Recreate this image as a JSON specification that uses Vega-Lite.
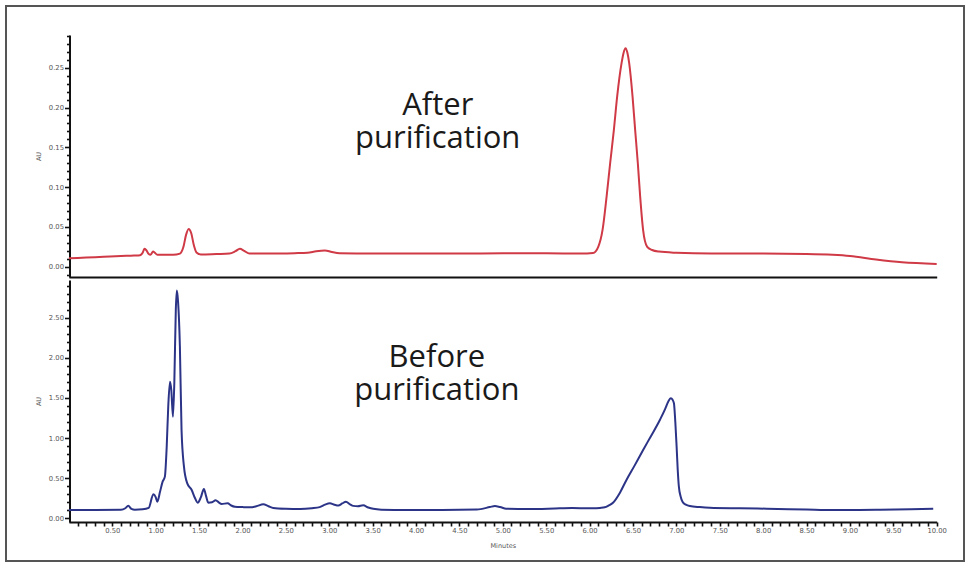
{
  "$schema": "https://vega.github.io/schema/vega-lite/v6.json",
  "width": 958,
  "height": 555,
  "autosize": {"type": "none"},
  "padding": {"left": 6, "top": 6, "right": 3, "bottom": 3},
  "background": "white",
  "config": {
    "view": {"stroke": "#555555", "strokeWidth": 2},
    "axis": {
      "labelFont": "DejaVu Sans", "titleFont": "DejaVu Sans",
      "labelFontSize": 6.8, "titleFontSize": 6.5,
      "labelColor": "#555555", "titleColor": "#555555", "titleFontWeight": "normal",
      "domainColor": "#111111", "domainWidth": 2, "tickColor": "#111111", "tickWidth": 1.6,
      "grid": false, "labelOverlap": false, "labelBound": false, "labelFlush": false
    }
  },
  "datasets": {
    "after": [
      {"t": 0.00, "au": 0.0105}, {"t": 0.20, "au": 0.0115}, {"t": 0.40, "au": 0.0125}, {"t": 0.60, "au": 0.0135},
      {"t": 0.75, "au": 0.0140}, {"t": 0.82, "au": 0.0145}, {"t": 0.85, "au": 0.0175}, {"t": 0.87, "au": 0.0225},
      {"t": 0.89, "au": 0.0210}, {"t": 0.92, "au": 0.0160}, {"t": 0.94, "au": 0.0150}, {"t": 0.97, "au": 0.0190},
      {"t": 0.99, "au": 0.0175}, {"t": 1.02, "au": 0.0150}, {"t": 1.10, "au": 0.0150}, {"t": 1.20, "au": 0.0150},
      {"t": 1.28, "au": 0.0165}, {"t": 1.32, "au": 0.0250}, {"t": 1.35, "au": 0.0400}, {"t": 1.38, "au": 0.0475},
      {"t": 1.41, "au": 0.0420}, {"t": 1.44, "au": 0.0270}, {"t": 1.47, "au": 0.0180}, {"t": 1.52, "au": 0.0155},
      {"t": 1.70, "au": 0.0160}, {"t": 1.85, "au": 0.0165}, {"t": 1.92, "au": 0.0195}, {"t": 1.97, "au": 0.0225},
      {"t": 2.02, "au": 0.0200}, {"t": 2.08, "au": 0.0165}, {"t": 2.30, "au": 0.0165}, {"t": 2.60, "au": 0.0170},
      {"t": 2.75, "au": 0.0175}, {"t": 2.85, "au": 0.0195}, {"t": 2.95, "au": 0.0205}, {"t": 3.03, "au": 0.0185},
      {"t": 3.12, "au": 0.0170}, {"t": 3.50, "au": 0.0165}, {"t": 4.00, "au": 0.0165}, {"t": 4.50, "au": 0.0165},
      {"t": 5.00, "au": 0.0170}, {"t": 5.50, "au": 0.0170}, {"t": 5.90, "au": 0.0165}, {"t": 6.04, "au": 0.0172},
      {"t": 6.10, "au": 0.0250}, {"t": 6.15, "au": 0.0465}, {"t": 6.196, "au": 0.088}, {"t": 6.237, "au": 0.130},
      {"t": 6.28, "au": 0.172}, {"t": 6.318, "au": 0.214}, {"t": 6.369, "au": 0.256}, {"t": 6.39, "au": 0.268},
      {"t": 6.415, "au": 0.2745}, {"t": 6.435, "au": 0.269}, {"t": 6.456, "au": 0.256}, {"t": 6.495, "au": 0.214},
      {"t": 6.525, "au": 0.172}, {"t": 6.556, "au": 0.130}, {"t": 6.583, "au": 0.088}, {"t": 6.617, "au": 0.046},
      {"t": 6.664, "au": 0.025}, {"t": 6.72, "au": 0.021}, {"t": 6.80, "au": 0.019}, {"t": 7.00, "au": 0.0175},
      {"t": 7.40, "au": 0.0165}, {"t": 8.00, "au": 0.0165}, {"t": 8.50, "au": 0.0160}, {"t": 8.80, "au": 0.0150},
      {"t": 9.00, "au": 0.0135}, {"t": 9.30, "au": 0.0090}, {"t": 9.60, "au": 0.0055}, {"t": 10.0, "au": 0.0035}
    ],
    "before": [
      {"t": 0.00, "au": 0.104}, {"t": 0.30, "au": 0.104}, {"t": 0.60, "au": 0.106}, {"t": 0.65, "au": 0.125},
      {"t": 0.684, "au": 0.157}, {"t": 0.72, "au": 0.118}, {"t": 0.76, "au": 0.108}, {"t": 0.85, "au": 0.112},
      {"t": 0.92, "au": 0.130}, {"t": 0.973, "au": 0.300}, {"t": 1.00, "au": 0.265}, {"t": 1.019, "au": 0.207},
      {"t": 1.05, "au": 0.330}, {"t": 1.08, "au": 0.457}, {"t": 1.106, "au": 0.520}, {"t": 1.127, "au": 0.893},
      {"t": 1.145, "au": 1.400}, {"t": 1.165, "au": 1.703}, {"t": 1.18, "au": 1.600}, {"t": 1.199, "au": 1.267},
      {"t": 1.215, "au": 1.700}, {"t": 1.232, "au": 2.600}, {"t": 1.244, "au": 2.840}, {"t": 1.258, "au": 2.700},
      {"t": 1.279, "au": 2.140}, {"t": 1.298, "au": 1.100}, {"t": 1.326, "au": 0.645}, {"t": 1.364, "au": 0.436},
      {"t": 1.415, "au": 0.353}, {"t": 1.45, "au": 0.260}, {"t": 1.484, "au": 0.195}, {"t": 1.52, "au": 0.260},
      {"t": 1.556, "au": 0.366}, {"t": 1.58, "au": 0.280}, {"t": 1.606, "au": 0.195}, {"t": 1.65, "au": 0.200},
      {"t": 1.691, "au": 0.225}, {"t": 1.73, "au": 0.195}, {"t": 1.76, "au": 0.179}, {"t": 1.829, "au": 0.187},
      {"t": 1.87, "au": 0.160}, {"t": 1.913, "au": 0.145}, {"t": 2.00, "au": 0.140}, {"t": 2.085, "au": 0.137},
      {"t": 2.16, "au": 0.150}, {"t": 2.24, "au": 0.175}, {"t": 2.30, "au": 0.150}, {"t": 2.355, "au": 0.128},
      {"t": 2.50, "au": 0.118}, {"t": 2.662, "au": 0.115}, {"t": 2.80, "au": 0.125}, {"t": 2.89, "au": 0.140},
      {"t": 2.95, "au": 0.170}, {"t": 3.008, "au": 0.187}, {"t": 3.06, "au": 0.170}, {"t": 3.104, "au": 0.160},
      {"t": 3.15, "au": 0.185}, {"t": 3.192, "au": 0.207}, {"t": 3.24, "au": 0.175}, {"t": 3.276, "au": 0.155},
      {"t": 3.33, "au": 0.150}, {"t": 3.391, "au": 0.162}, {"t": 3.45, "au": 0.135}, {"t": 3.507, "au": 0.118},
      {"t": 3.60, "au": 0.108}, {"t": 3.90, "au": 0.104}, {"t": 4.30, "au": 0.104}, {"t": 4.70, "au": 0.110},
      {"t": 4.85, "au": 0.140}, {"t": 4.909, "au": 0.154}, {"t": 4.97, "au": 0.140}, {"t": 5.04, "au": 0.120},
      {"t": 5.30, "au": 0.115}, {"t": 5.658, "au": 0.125}, {"t": 5.80, "au": 0.128}, {"t": 5.95, "au": 0.126},
      {"t": 6.04, "au": 0.125}, {"t": 6.12, "au": 0.130}, {"t": 6.175, "au": 0.137}, {"t": 6.22, "au": 0.160},
      {"t": 6.27, "au": 0.195}, {"t": 6.35, "au": 0.320}, {"t": 6.425, "au": 0.478}, {"t": 6.52, "au": 0.660},
      {"t": 6.617, "au": 0.852}, {"t": 6.71, "au": 1.030}, {"t": 6.81, "au": 1.226}, {"t": 6.87, "au": 1.360},
      {"t": 6.906, "au": 1.454}, {"t": 6.937, "au": 1.496}, {"t": 6.955, "au": 1.480}, {"t": 6.972, "au": 1.434},
      {"t": 6.988, "au": 1.200}, {"t": 7.003, "au": 0.893}, {"t": 7.016, "au": 0.600}, {"t": 7.029, "au": 0.394},
      {"t": 7.05, "au": 0.270}, {"t": 7.071, "au": 0.207}, {"t": 7.11, "au": 0.170}, {"t": 7.155, "au": 0.153},
      {"t": 7.27, "au": 0.140}, {"t": 7.386, "au": 0.132}, {"t": 7.73, "au": 0.125}, {"t": 8.04, "au": 0.120},
      {"t": 8.50, "au": 0.110}, {"t": 8.80, "au": 0.104}, {"t": 9.30, "au": 0.106}, {"t": 9.70, "au": 0.112},
      {"t": 9.96, "au": 0.118}
    ]
  },
  "layer": [
    {
      "layer": [
        {
          "data": {"name": "after"},
          "mark": {"type": "line", "color": "#cf3a46", "strokeWidth": 2, "interpolate": "monotone"},
          "encoding": {
            "x": {
              "field": "t", "type": "quantitative",
              "scale": {"domain": [0, 10], "range": [62.9, 930.7], "nice": false, "zero": false},
              "axis": {"orient": "bottom", "offset": -284, "labels": false, "ticks": false, "title": null}
            },
            "y": {
              "field": "au", "type": "quantitative",
              "scale": {"domain": [-0.0129, 0.2911], "range": [271, 29], "nice": false, "zero": false},
              "axis": {
                "orient": "left", "offset": -63.5, "title": "AU", "titlePadding": 7, "tickCount": 1000,
                "values": [-0.01, 0, 0.01, 0.02, 0.03, 0.04, 0.05, 0.06, 0.07, 0.08, 0.09, 0.1, 0.11, 0.12, 0.13, 0.14, 0.15, 0.16, 0.17, 0.18, 0.19, 0.2, 0.21, 0.22, 0.23, 0.24, 0.25, 0.26, 0.27, 0.28, 0.29],
                "labelExpr": "(round(datum.value*100) % 5 === 0 && datum.value >= 0) ? format(datum.value, '.2f') : ''",
                "tickSize": {"condition": {"test": "round(datum.value*100) % 5 === 0", "value": 5}, "value": 3},
                "labelPadding": 1
              }
            }
          }
        },
        {
          "data": {"values": [{}]},
          "mark": {"type": "text", "font": "Open Sans", "fontSize": 31, "lineHeight": 33, "align": "center", "baseline": "alphabetic", "color": "#1a1a1a"},
          "encoding": {"x": {"datum": 4.25}, "y": {"datum": 0.1906}, "text": {"value": ["After", "purification"]}}
        }
      ]
    },
    {
      "layer": [
        {
          "data": {"name": "before"},
          "mark": {"type": "line", "color": "#2c3487", "strokeWidth": 2, "interpolate": "monotone"},
          "encoding": {
            "x": {
              "field": "t", "type": "quantitative",
              "scale": {"domain": [0, 10], "range": [62.9, 930.7], "nice": false, "zero": false},
              "axis": {
                "orient": "bottom", "offset": -39, "title": "Minutes", "titlePadding": 9, "tickCount": 1000,
                "values": [0.1, 0.2, 0.3, 0.4, 0.5, 0.6, 0.7, 0.8, 0.9, 1, 1.1, 1.2, 1.3, 1.4, 1.5, 1.6, 1.7, 1.8, 1.9, 2, 2.1, 2.2, 2.3, 2.4, 2.5, 2.6, 2.7, 2.8, 2.9, 3, 3.1, 3.2, 3.3, 3.4, 3.5, 3.6, 3.7, 3.8, 3.9, 4, 4.1, 4.2, 4.3, 4.4, 4.5, 4.6, 4.7, 4.8, 4.9, 5, 5.1, 5.2, 5.3, 5.4, 5.5, 5.6, 5.7, 5.8, 5.9, 6, 6.1, 6.2, 6.3, 6.4, 6.5, 6.6, 6.7, 6.8, 6.9, 7, 7.1, 7.2, 7.3, 7.4, 7.5, 7.6, 7.7, 7.8, 7.9, 8, 8.1, 8.2, 8.3, 8.4, 8.5, 8.6, 8.7, 8.8, 8.9, 9, 9.1, 9.2, 9.3, 9.4, 9.5, 9.6, 9.7, 9.8, 9.9, 10],
                "labelExpr": "(round(datum.value*10) % 5 === 0) ? format(datum.value, '.2f') : ''",
                "tickSize": 4, "labelPadding": 1
              }
            },
            "y": {
              "field": "au", "type": "quantitative",
              "scale": {"domain": [-0.046, 2.971], "range": [516, 274], "nice": false, "zero": false},
              "axis": {
                "orient": "left", "offset": -63.5, "title": "AU", "titlePadding": 7, "tickCount": 1000,
                "values": [0, 0.1, 0.2, 0.3, 0.4, 0.5, 0.6, 0.7, 0.8, 0.9, 1, 1.1, 1.2, 1.3, 1.4, 1.5, 1.6, 1.7, 1.8, 1.9, 2, 2.1, 2.2, 2.3, 2.4, 2.5, 2.6, 2.7, 2.8, 2.9],
                "labelExpr": "(round(datum.value*10) % 5 === 0) ? format(datum.value, '.2f') : ''",
                "tickSize": {"condition": {"test": "round(datum.value*10) % 5 === 0", "value": 5}, "value": 3},
                "labelPadding": 1
              }
            }
          }
        },
        {
          "data": {"values": [{}]},
          "mark": {"type": "text", "font": "Open Sans", "fontSize": 31, "lineHeight": 33, "align": "center", "baseline": "alphabetic", "color": "#1a1a1a"},
          "encoding": {"x": {"datum": 4.24}, "y": {"datum": 1.886}, "text": {"value": ["Before", "purification"]}}
        }
      ]
    }
  ],
  "resolve": {"scale": {"x": "independent", "y": "independent"}, "axis": {"x": "independent", "y": "independent"}}
}
